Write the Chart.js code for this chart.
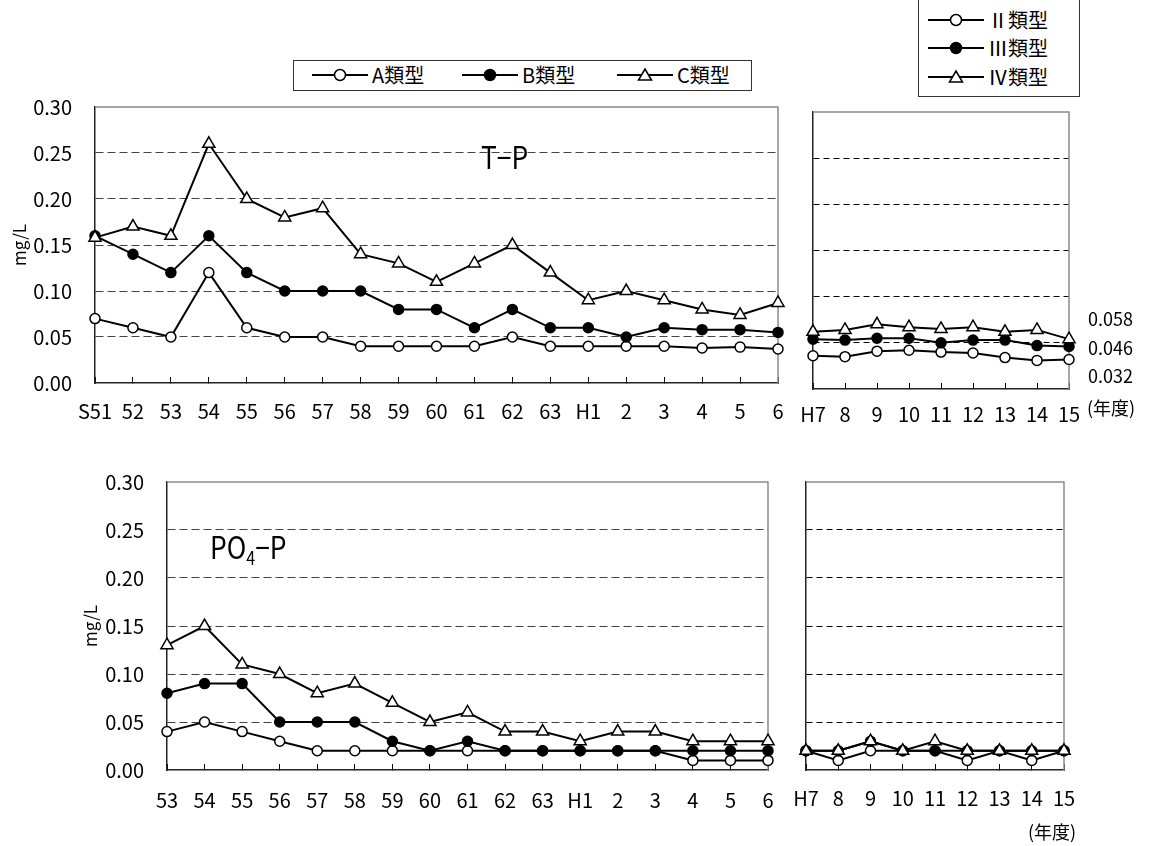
<!DOCTYPE html>
<html lang="ja">
<head>
<meta charset="utf-8">
<script src="https://cdn.jsdelivr.net/npm/chart.js@4.4.0/dist/chart.umd.min.js"></script>
<style>
  body { margin: 0; background: #fff; font-family: "Noto Sans CJK JP", "Noto Sans", sans-serif; color: #000; }
  #wrap { position: relative; width: 1152px; height: 846px; overflow: hidden; }
  canvas, .txt, .box, .item { position: absolute; }
  .box { border: 1.5px solid #333; box-sizing: border-box; background: #fff; }
  .item { display: flex; align-items: center; font-size: 20px; line-height: 24px; white-space: nowrap; }
  .item svg { margin-right: 4px; }
  .txt { white-space: nowrap; line-height: 1; }
  .big { font-size: 31px; transform: scaleX(0.85); transform-origin: left top; }
  .big sub { font-size: 19px; vertical-align: -6px; }
</style>
</head>
<body>
<div id="wrap">
  <canvas id="tpOld" width="790" height="340" style="left:0;top:90px"></canvas>
  <canvas id="tpNew" width="362" height="340" style="left:790px;top:90px"></canvas>
  <canvas id="poOld" width="790" height="386" style="left:0;top:460px"></canvas>
  <canvas id="poNew" width="362" height="386" style="left:790px;top:460px"></canvas>

  <div class="box" style="left:293px;top:60px;width:459px;height:31px"></div>
  <div class="box" style="left:918px;top:-2px;width:162px;height:99px"></div>
  <div id="legendTop"></div>
  <div id="legendRight"></div>

  <div class="txt big" style="left:481px;top:140px">T−P</div>
  <div class="txt big" style="left:210px;top:530px">PO<sub>4</sub>−P</div>
  <div id="means"></div>
  <div class="txt" style="left:1087px;top:398px;font-size:18px">(年度)</div>
  <div class="txt" style="left:1028px;top:822px;font-size:18px">(年度)</div>
</div>
<script>
const tpYearsOld = ["S51", "52", "53", "54", "55", "56", "57", "58", "59", "60", "61", "62", "63", "H1", "2", "3", "4", "5", "6"];
const tpA = [0.07, 0.06, 0.05, 0.12, 0.06, 0.05, 0.05, 0.04, 0.04, 0.04, 0.04, 0.05, 0.04, 0.04, 0.04, 0.04, 0.038, 0.039, 0.037];
const tpB = [0.16, 0.14, 0.12, 0.16, 0.12, 0.10, 0.10, 0.10, 0.08, 0.08, 0.06, 0.08, 0.06, 0.06, 0.05, 0.06, 0.058, 0.058, 0.055];
const tpC = [0.158, 0.17, 0.16, 0.26, 0.20, 0.18, 0.19, 0.14, 0.13, 0.11, 0.13, 0.15, 0.12, 0.09, 0.10, 0.09, 0.08, 0.074, 0.087];

const tpYearsNew = ["H7", "8", "9", "10", "11", "12", "13", "14", "15"];
const tp2 = [0.036, 0.035, 0.041, 0.042, 0.040, 0.039, 0.034, 0.031, 0.032];
const tp3 = [0.054, 0.053, 0.055, 0.055, 0.050, 0.053, 0.053, 0.047, 0.046];
const tp4 = [0.062, 0.064, 0.070, 0.067, 0.065, 0.067, 0.062, 0.064, 0.054];
const tpMeans = ["0.058", "0.046", "0.032"];

const poYearsOld = ["53", "54", "55", "56", "57", "58", "59", "60", "61", "62", "63", "H1", "2", "3", "4", "5", "6"];
const poA = [0.04, 0.05, 0.04, 0.03, 0.02, 0.02, 0.02, 0.02, 0.02, 0.02, 0.02, 0.02, 0.02, 0.02, 0.01, 0.01, 0.01];
const poB = [0.08, 0.09, 0.09, 0.05, 0.05, 0.05, 0.03, 0.02, 0.03, 0.02, 0.02, 0.02, 0.02, 0.02, 0.02, 0.02, 0.02];
const poC = [0.13, 0.15, 0.11, 0.10, 0.08, 0.09, 0.07, 0.05, 0.06, 0.04, 0.04, 0.03, 0.04, 0.04, 0.03, 0.03, 0.03];

const poYearsNew = ["H7", "8", "9", "10", "11", "12", "13", "14", "15"];
const po2 = [0.02, 0.01, 0.02, 0.02, 0.02, 0.01, 0.02, 0.01, 0.02];
const po3 = [0.02, 0.02, 0.03, 0.02, 0.02, 0.02, 0.02, 0.02, 0.02];
const po4 = [0.02, 0.02, 0.03, 0.02, 0.03, 0.02, 0.02, 0.02, 0.02];

const yTicks = [0, 0.05, 0.10, 0.15, 0.20, 0.25, 0.30];
const oldNames = ["A類型", "B類型", "C類型"];
const newNames = ["Ⅱ類型", "Ⅲ類型", "Ⅳ類型"];

const FONT = '"Noto Sans CJK JP", "Noto Sans", sans-serif';

// marker look per series: open circle, filled circle, open triangle
const looks = [
  { pointStyle: "circle", pointBackgroundColor: "#fff", pointRadius: 5, order: 3 },
  { pointStyle: "circle", pointBackgroundColor: "#000", pointRadius: 5, order: 2 },
  { pointStyle: "triangle", pointBackgroundColor: "#fff", pointRadius: 7, order: 1 },
];

// gray top and right edges of the plot frame
const framePlugin = {
  id: "frame",
  beforeDatasetsDraw(chart) {
    const { ctx, chartArea: a } = chart;
    ctx.save();
    ctx.strokeStyle = "#8a8a8a";
    ctx.lineWidth = 1.5;
    ctx.beginPath();
    ctx.moveTo(a.left, a.top);
    ctx.lineTo(a.right, a.top);
    ctx.lineTo(a.right, a.bottom);
    ctx.stroke();
    ctx.restore();
  },
};

// fixed axis sizes, no extra label overflow padding
function fixSize(s, w, h) {
  if (w !== null) s.width = w;
  if (h !== null) s.height = h;
  s.paddingLeft = 0;
  s.paddingRight = 0;
  s.paddingTop = 0;
  s.paddingBottom = 0;
}

function makeChart(id, labels, series, names, o) {
  return new Chart(document.getElementById(id), {
    type: "line",
    data: {
      labels: labels,
      datasets: series.map((vals, i) => ({
        label: names[i],
        data: vals,
        borderColor: "#000",
        borderWidth: 2,
        pointBorderColor: "#000",
        pointBorderWidth: 1.5,
        tension: 0,
        clip: false,
        ...looks[i],
      })),
    },
    options: {
      responsive: false,
      animation: false,
      events: [],
      layout: { autoPadding: false, padding: { left: 0, top: o.top, right: o.right, bottom: 0 } },
      plugins: { legend: { display: false }, tooltip: { enabled: false } },
      scales: {
        x: {
          offset: false,
          grid: { drawOnChartArea: false, drawTicks: true, tickLength: -6, tickColor: "#000", tickWidth: 1 },
          border: { color: "#222", width: 1.5 },
          ticks: { autoSkip: false, maxRotation: 0, padding: o.xPad, color: "#000", font: { family: FONT, size: 20 } },
          afterFit: (s) => fixSize(s, null, o.xHeight),
        },
        y: {
          min: 0,
          max: 0.3,
          afterBuildTicks: (s) => { s.ticks = yTicks.map((v) => ({ value: v })); },
          grid: {
            drawTicks: false,
            lineWidth: 1,
            color: (c) => (c.tick && c.tick.value > 0.001 && c.tick.value < 0.299 ? o.gridColor : "rgba(0,0,0,0)"),
          },
          border: { color: "#222", width: 1.5, dash: o.dash },
          ticks: {
            display: o.showY,
            padding: 23,
            color: "#000",
            font: { family: FONT, size: 20 },
            callback: (v) => Number(v).toFixed(2),
          },
          title: {
            display: o.showY,
            text: "mg/L",
            color: "#000",
            font: { family: FONT, size: 17 },
            padding: { top: o.titlePad, bottom: 0 },
          },
          afterFit: (s) => fixSize(s, o.yWidth, null),
        },
      },
    },
    plugins: [framePlugin],
  });
}

makeChart("tpOld", tpYearsOld, [tpA, tpB, tpC], oldNames,
  { top: 17, right: 12, yWidth: 95, xHeight: 47, xPad: 22, showY: true, titlePad: 9, gridColor: "#444", dash: [8, 4] });
makeChart("tpNew", tpYearsNew, [tp2, tp3, tp4], newNames,
  { top: 22, right: 83, yWidth: 23, xHeight: 41, xPad: 19, showY: false, titlePad: 0, gridColor: "#000", dash: [6, 4] });
makeChart("poOld", poYearsOld, [poA, poB, poC], oldNames,
  { top: 22, right: 22, yWidth: 167, xHeight: 76, xPad: 24, showY: true, titlePad: 80, gridColor: "#444", dash: [8, 4] });
makeChart("poNew", poYearsNew, [po2, po3, po4], newNames,
  { top: 22, right: 88, yWidth: 16, xHeight: 76, xPad: 22, showY: false, titlePad: 0, gridColor: "#000", dash: [6, 4] });

// legend symbols: short line with the series marker in the middle
function symbol(i) {
  const m = i === 2
    ? '<polygon points="28,6 34.5,17 21.5,17" fill="#fff" stroke="#000" stroke-width="1.5"/>'
    : '<circle cx="28" cy="12" r="5.5" fill="' + (i === 1 ? "#000" : "#fff") + '" stroke="#000" stroke-width="1.5"/>';
  return '<svg width="56" height="24"><line x1="0" y1="12" x2="56" y2="12" stroke="#000" stroke-width="2"/>' + m + "</svg>";
}

function addItem(parent, i, name, x, y) {
  const d = document.createElement("div");
  d.className = "item";
  d.style.left = x + "px";
  d.style.top = y + "px";
  d.innerHTML = symbol(i) + "<span>" + name + "</span>";
  parent.appendChild(d);
}

const lt = document.getElementById("legendTop");
[312, 462, 617].forEach((x, i) => addItem(lt, i, oldNames[i], x, 63));
const lr = document.getElementById("legendRight");
[8, 36, 65].forEach((y, i) => addItem(lr, i, newNames[i], 928, y));

const means = document.getElementById("means");
[309, 338, 366].forEach((y, i) => {
  const d = document.createElement("div");
  d.className = "txt";
  d.style.cssText = "left:1088px;top:" + y + "px;font-size:18px";
  d.textContent = tpMeans[i];
  means.appendChild(d);
});
</script>
</body>
</html>
